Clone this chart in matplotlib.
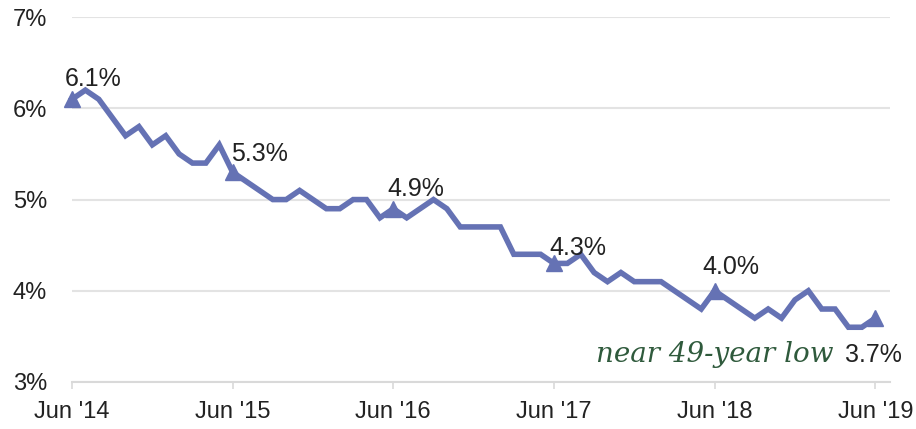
import matplotlib.pyplot as plt
import numpy as np

# monthly unemployment rate, Jun 2014 .. Jun 2019
rate = [6.1, 6.2, 6.1, 5.9, 5.7, 5.8, 5.6,
        5.7, 5.5, 5.4, 5.4, 5.6, 5.3, 5.2, 5.1, 5.0, 5.0, 5.1, 5.0,
        4.9, 4.9, 5.0, 5.0, 4.8, 4.9, 4.8, 4.9, 5.0, 4.9, 4.7, 4.7,
        4.7, 4.7, 4.4, 4.4, 4.4, 4.3, 4.3, 4.4, 4.2, 4.1, 4.2, 4.1,
        4.1, 4.1, 4.0, 3.9, 3.8, 4.0, 3.9, 3.8, 3.7, 3.8, 3.7, 3.9,
        4.0, 3.8, 3.8, 3.6, 3.6, 3.7]
tick_labels = ["Jun '14", "Jun '15", "Jun '16", "Jun '17", "Jun '18", "Jun '19"]
ytick_labels = ["3%", "4%", "5%", "6%", "7%"]

months = np.arange(len(rate))
june_idx = months[::12]
line_col = '#6572b4'

plt.rcParams['font.family'] = ['Liberation Sans', 'DejaVu Sans']

fig = plt.figure(figsize=(9.16, 4.29), dpi=100)
ax = fig.add_axes([0.0786, 0.1096, 0.893, 0.8504])

ax.plot(months, rate, color=line_col, lw=4, solid_joinstyle='miter', clip_on=False, zorder=3)
ax.plot(june_idx, [rate[i] for i in june_idx], '^', color=line_col, ms=12, clip_on=False, zorder=4)

# data labels on the June points (offsets in points)
offsets = {0: (-5, 14.4, 'left'), 12: (-1.4, 13, 'left'), 24: (-4.3, 14.4, 'left'),
           36: (-3.6, 10.8, 'left'), 48: (11.5, 17.3, 'center'), 60: (-1.4, -26.6, 'center')}
for i in june_idx:
    dx, dy, ha = offsets[i]
    ax.annotate(f"{rate[i]:.1f}%", (i, rate[i]), xytext=(dx, dy), textcoords='offset points',
                ha=ha, va='center', fontsize=18, color='#222222', zorder=5)

ax.text(56.9, 3.30, 'near 49-year low', fontsize=20, style='italic', color='#2f5a3c',
        family=['DejaVu Serif'], ha='right', va='center')

ax.set_xlim(0, 61.1)
ax.set_ylim(3, 7)
ax.set_yticks([3, 4, 5, 6, 7])
ax.set_yticklabels(ytick_labels)
ax.set_xticks(june_idx)
ax.set_xticklabels(tick_labels)

ax.grid(axis='y', color='#e3e3e3', lw=1.5)
ax.set_axisbelow(True)
for s in ['top', 'right', 'left']:
    ax.spines[s].set_visible(False)
ax.spines['bottom'].set_color('#d9d9d9')
ax.spines['bottom'].set_linewidth(1.5)
ax.tick_params(axis='x', length=5, width=1.2, color='#d9d9d9', labelsize=17, pad=9, labelcolor='#222222')
ax.tick_params(axis='y', length=0, labelsize=17, pad=18, labelcolor='#222222')

fig.savefig('out.png', dpi=100)
